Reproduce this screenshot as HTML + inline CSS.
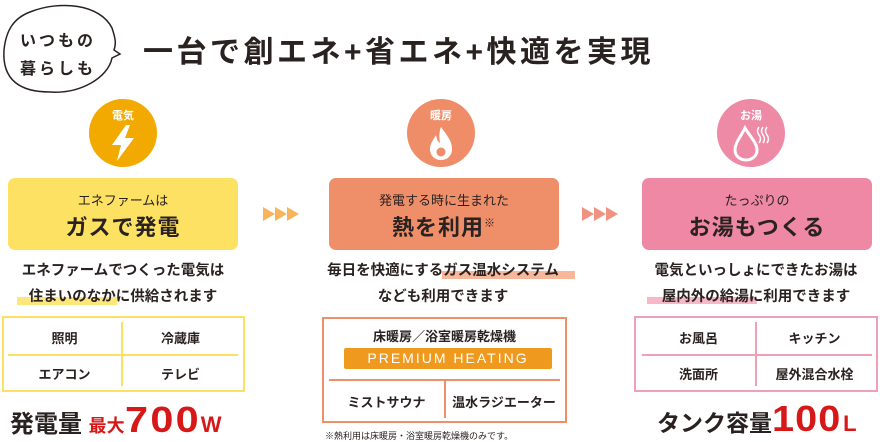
<!DOCTYPE html>
<html><head><meta charset="utf-8"><style>
*{margin:0;padding:0;box-sizing:border-box}
body{width:880px;height:440px;background:#fff;position:relative;overflow:hidden;font-family:"Liberation Sans","Noto Sans CJK JP",sans-serif;color:#2a2220;font-weight:bold}
.a{position:absolute}
.c{text-align:center}
.circ{position:absolute;width:68px;height:68px;border-radius:50%;color:#fff;font-size:11px;text-align:center;padding-top:8px}
.box{position:absolute;top:178px;width:230px;height:72px;border-radius:7px;text-align:center}
.box .s{font-size:13px;margin-top:12px;font-weight:normal}
.box .l{font-size:22px;margin-top:1px;font-weight:bold;letter-spacing:1px}
.desc{position:absolute;top:258px;font-size:14.5px;line-height:26px;text-align:center;width:300px}
.tbl{position:absolute;border:2px solid;}
.cell{position:absolute;font-size:13px;text-align:center}
</style></head><body>
<svg class="a" style="left:0;top:0" width="130" height="100"><path d="M30 12 C60 0 100 4 112 28 C116 40 116 44 114 50 L120 54 L112 58 C108 78 80 94 50 92 C20 92 2 80 4 50 C6 30 14 18 30 12Z" fill="#fff" stroke="#2a2220" stroke-width="1.5"/></svg>
<div class="a" style="left:20px;top:28px;font-size:16px;line-height:28px;letter-spacing:3px;width:100px">いつもの<br>暮らしも</div>
<div class="a" style="left:143px;top:27px;font-size:30px;letter-spacing:3.5px;white-space:nowrap">一台で創エネ+省エネ+快適を実現</div>

<div class="circ" style="left:89px;top:99px;background:#f2a900">電気<br><svg width="30" height="40" viewBox="0 0 30 40"><path d="M18 2 L4 22 L13 22 L9 38 L26 15 L17 15 L22 2Z" fill="#fff"/></svg></div>
<div class="circ" style="left:407px;top:99px;background:#ef8d68">暖房<br><svg width="30" height="40" viewBox="0 0 30 40"><path d="M15 4 C22 14 26 18 26 26 C26 33 21 37 15 37 C9 37 4 33 4 26 C4 20 8 16 10 12 C11 17 12 19 14 20 C13 14 13 9 15 4Z" fill="#fff"/><circle cx="15" cy="29" r="4.5" fill="#ef8d68"/></svg></div>
<div class="circ" style="left:717px;top:99px;background:#ee8aa6">お湯<br><svg width="40" height="40" viewBox="0 0 40 40"><path d="M14 5 C20 15 26 20 26 27 C26 33 21 37 15 37 C9 37 4 33 4 27 C4 20 9 15 14 5Z" fill="none" stroke="#fff" stroke-width="3"/><path d="M28 4 q-3 4 0 8 q3 4 0 8 M32 4 q-3 4 0 8 q3 4 0 8 M36 4 q-3 4 0 8 q3 4 0 8" stroke="#fff" fill="none" stroke-width="1.5"/></svg></div>

<div class="box" style="left:8px;background:#fde163"><div class="s">エネファームは</div><div class="l">ガスで発電</div></div>
<div class="box" style="left:329px;background:#ef8f6a"><div class="s">発電する時に生まれた</div><div class="l">熱を利用<sup style="font-size:11px">※</sup></div></div>
<div class="box" style="left:642px;background:#ee88a5"><div class="s">たっぷりの</div><div class="l">お湯もつくる</div></div>

<svg class="a" style="left:263px;top:205px" width="40" height="18"><path d="M0 2 L12 9 L0 16Z M12 2 L24 9 L12 16Z M24 2 L36 9 L24 16Z" fill="#f8b45a"/></svg>
<svg class="a" style="left:582px;top:205px" width="40" height="18"><path d="M0 2 L12 9 L0 16Z M12 2 L24 9 L12 16Z M24 2 L36 9 L24 16Z" fill="#f09282"/></svg>

<div class="a" style="left:17px;top:297px;width:100px;height:8px;background:#fde77a"></div>
<div class="a" style="left:442px;top:271px;width:133px;height:8px;background:#f6b79a"></div>
<div class="a" style="left:647px;top:297px;width:110px;height:7px;background:#f6b8c8"></div>
<div class="desc" style="left:-27px">エネファームでつくった電気は<br>住まいのなかに供給されます</div>
<div class="desc" style="left:293px">毎日を快適にするガス温水システム<br>なども利用できます</div>
<div class="desc" style="left:606px">電気といっしょにできたお湯は<br>屋内外の給湯に利用できます</div>

<div class="tbl" style="left:2px;top:316px;width:243px;height:76px;border-color:#fde163"></div>
<div class="a" style="left:8px;top:354px;width:230px;height:2px;background:#fde163"></div>
<div class="a" style="left:121px;top:322px;width:2px;height:64px;background:#fde163"></div>
<div class="cell" style="left:8px;top:328px;width:113px">照明</div>
<div class="cell" style="left:123px;top:328px;width:115px">冷蔵庫</div>
<div class="cell" style="left:8px;top:364px;width:113px">エアコン</div>
<div class="cell" style="left:123px;top:364px;width:115px">テレビ</div>

<div class="tbl" style="left:322px;top:317px;width:245px;height:106px;border-color:#ef8f6a"></div>
<div class="cell" style="left:322px;top:326px;width:245px">床暖房／浴室暖房乾燥機</div>
<div class="a c" style="left:344px;top:348px;width:208px;height:21px;background:#ef9a1e;border-radius:2px;color:#fff;font-size:14px;line-height:21px;letter-spacing:2px;font-weight:normal">PREMIUM HEATING</div>
<div class="a" style="left:329px;top:379px;width:231px;height:2px;background:#ef8f6a"></div>
<div class="a" style="left:444px;top:380px;width:2px;height:38px;background:#ef8f6a"></div>
<div class="cell" style="left:329px;top:392px;width:115px">ミストサウナ</div>
<div class="cell" style="left:446px;top:392px;width:116px">温水ラジエーター</div>
<div class="a" style="left:325px;top:429px;font-size:9px;font-weight:normal">※熱利用は床暖房・浴室暖房乾燥機のみです。</div>

<div class="tbl" style="left:634px;top:316px;width:244px;height:76px;border-color:#f0a0b6"></div>
<div class="a" style="left:642px;top:354px;width:230px;height:2px;background:#f0a0b6"></div>
<div class="a" style="left:755px;top:322px;width:2px;height:64px;background:#f0a0b6"></div>
<div class="cell" style="left:642px;top:328px;width:113px">お風呂</div>
<div class="cell" style="left:757px;top:328px;width:115px">キッチン</div>
<div class="cell" style="left:642px;top:364px;width:113px">洗面所</div>
<div class="cell" style="left:757px;top:364px;width:115px">屋外混合水栓</div>

<div class="a" style="left:10px;top:404px;font-size:24px;white-space:nowrap">発電量 <span style="color:#d71818;font-size:18px">最大</span><span style="color:#d71818;font-size:36px;letter-spacing:2px;line-height:30px;display:inline-block;transform:scaleX(1.15);transform-origin:left;margin-right:10px">700</span><span style="color:#d71818;font-size:22px">W</span></div>
<div class="a" style="left:657px;top:404px;font-size:23px;white-space:nowrap">タンク容量<span style="color:#d71818;font-size:36px;line-height:30px;letter-spacing:1px;display:inline-block;transform:scaleX(1.1);transform-origin:left;margin-right:8px">100</span><span style="color:#d71818;font-size:22px">L</span></div>
</body></html>
